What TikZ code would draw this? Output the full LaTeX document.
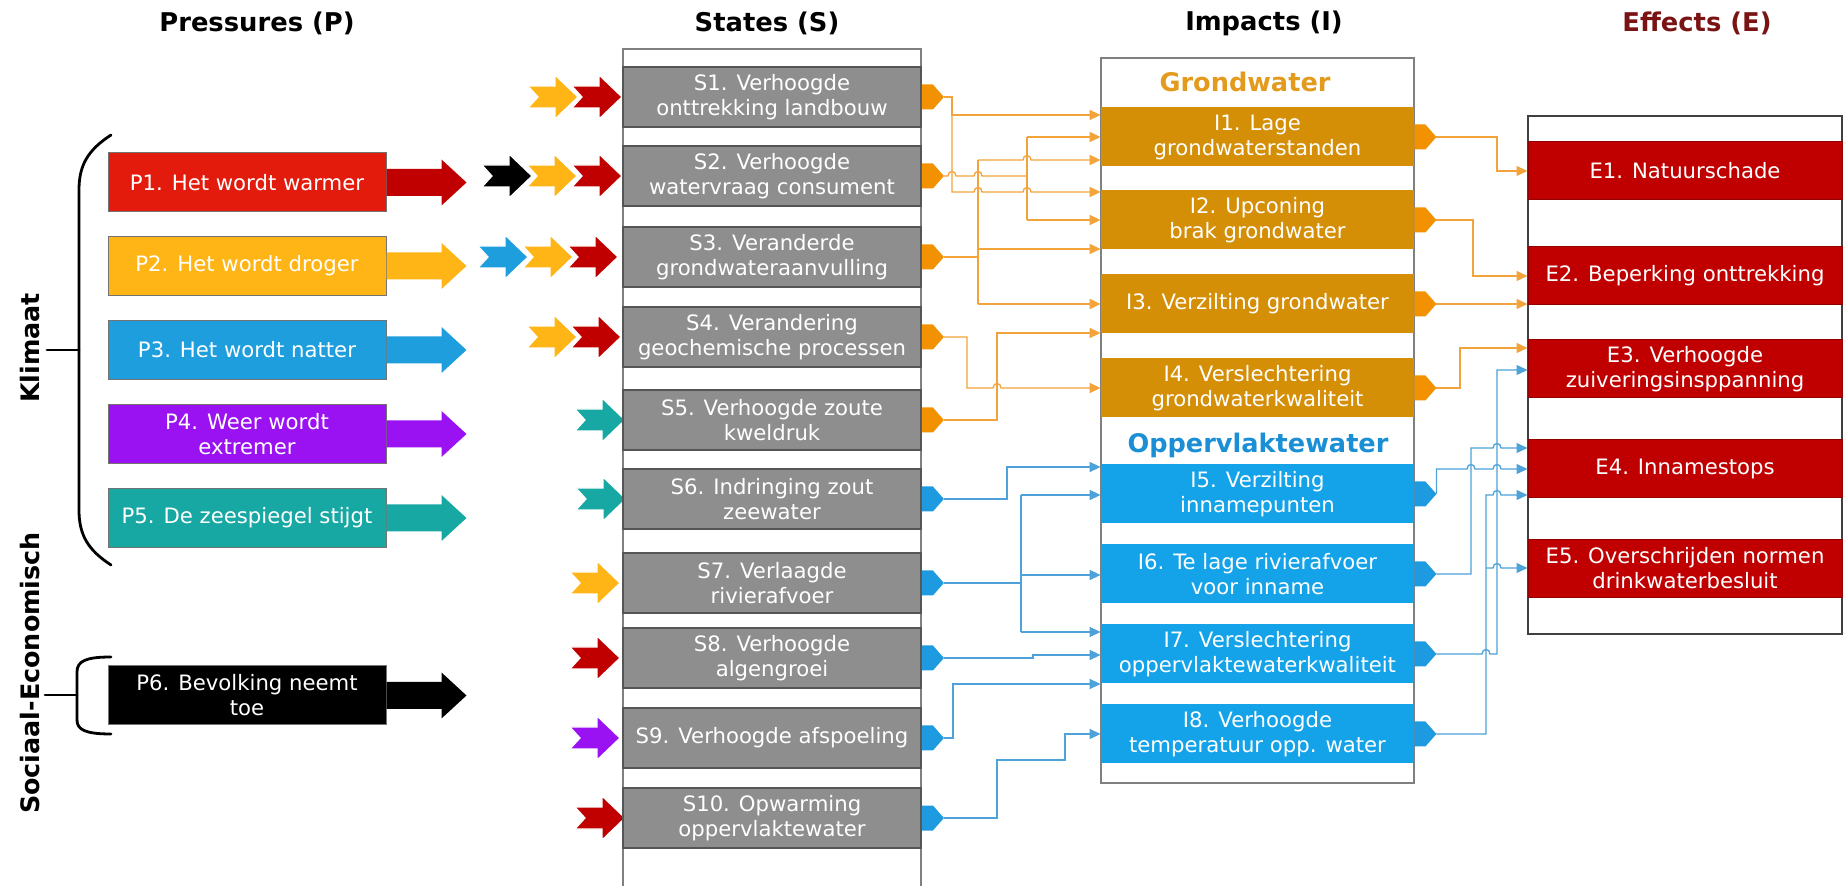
\documentclass[tikz,border=0pt]{standalone}
\usepackage{fontspec}
\setmainfont{DejaVu Sans}
\usetikzlibrary{arrows.meta}
\definecolor{pred}{HTML}{E31B0C}
\definecolor{dred}{HTML}{C00000}
\definecolor{pyel}{HTML}{FFB515}
\definecolor{pblu}{HTML}{1F9EDE}
\definecolor{ppur}{HTML}{9A11F2}
\definecolor{ptea}{HTML}{17A8A3}
\definecolor{sgray}{HTML}{8E8E8E}
\definecolor{sdark}{HTML}{555555}
\definecolor{iora}{HTML}{D48F06}
\definecolor{iblu}{HTML}{14A3E9}
\definecolor{lora}{HTML}{F2A33A}
\definecolor{bora}{HTML}{F39200}
\definecolor{lblu}{HTML}{4CA2D9}
\definecolor{bblu}{HTML}{1E9BE0}
\definecolor{ered}{HTML}{C00000}
\definecolor{gtxt}{HTML}{E39B1E}
\definecolor{otxt}{HTML}{1B8FD6}
\definecolor{etit}{HTML}{7A1414}
\tikzset{
  txt/.style={font=\fontsize{10.6}{12.5}\selectfont, text=white, align=center, inner sep=0pt},
  pbox/.style={txt, fill=#1, draw=black!55, line width=0.5pt, minimum width=139pt, minimum height=29.5pt},
  sbox/.style={txt, fill=sgray, draw=sdark, line width=0.9pt, minimum width=149pt, minimum height=30pt},
  ibox/.style={txt, fill=#1, minimum width=156.5pt, minimum height=29.5pt},
  ebox/.style={txt, fill=ered, draw=ered!75!black, line width=0.5pt, minimum width=157pt, minimum height=29pt},
  frame/.style={draw=#1, line width=0.8pt, fill=white},
  title/.style={font=\fontsize{12.9}{15}\selectfont\bfseries, inner sep=0pt},
  side/.style={font=\fontsize{12.7}{15}\selectfont\bfseries, rotate=90, inner sep=0pt},
  sub/.style={font=\fontsize{12.8}{15}\selectfont\bfseries, inner sep=0pt, text=#1},
  conn/.style={line width=0.65pt, draw=#1},
  oc/.style={conn=lora, -{Triangle[length=5.5pt,width=5pt]}},
  ocl/.style={conn=lora},
  bc/.style={conn=lblu, -{Triangle[length=5.5pt,width=5pt]}},
  bcl/.style={conn=lblu},
  hop/.style 2 args={insert path={-- (#1-4,#2) .. controls (#1-4,#2-6) and (#1+4,#2-6) .. (#1+4,#2)}},
  brace/.style={line width=1.4pt, line cap=round},
  chev/.pic={\filldraw[fill=#1, draw=white, line width=0.6pt] (0,-11) -- (27,-11) -- (27,-22) -- (50,0) -- (27,22) -- (27,11) -- (0,11) -- (10,0) -- cycle;},
  parr/.pic={\fill[#1] (0,-13.5) -- (55,-13.5) -- (55,-23) -- (80,0) -- (55,23) -- (55,13.5) -- (0,13.5) -- cycle;},
  blob/.pic={\fill[#1] (0,-12.5) -- (11,-12.5) -- (22,0) -- (11,12.5) -- (0,12.5) -- cycle;},
}
\begin{document}
\begin{tikzpicture}[x=0.5pt,y=-0.5pt]
\useasboundingbox[fill=white] (0,0) rectangle (1847,886);

% titles
\node[title] (tp) at (257,23) {Pressures (P)};
\node[title] (ts) at (767,23) {States (S)};
\node[title] (ti) at (1264,23) {Impacts (I)};
\node[title, text=etit] (te) at (1697,23) {Effects (E)};
\node[side] (kl) at (30,348) {Klimaat};
\node[side] (se) at (30,673) {Sociaal-Economisch};

% braces
\draw[brace] (111,135) .. controls (88,150) and (79,165) .. (79,190) -- (79,510) .. controls (79,535) and (88,550) .. (111,565);
\draw[brace] (47,350) -- (79,350);
\draw[brace] (111,657) .. controls (86,657) and (77,661) .. (77,672) -- (77,720) .. controls (77,730) and (86,734) .. (111,734);
\draw[brace] (45,695) -- (77,695);

% frames
\draw[frame=black!50] (623,49) rectangle (921,900);
\draw[frame=black!50] (1101,58) rectangle (1414,783);
\draw[frame=black!75] (1528,116) rectangle (1842,634);

% pressures
\node[pbox=pred] (p1) at (247,182.5) {P1. Het wordt warmer};
\node[pbox=pyel] (p2) at (247,266) {P2. Het wordt droger};
\node[pbox=pblu] (p3) at (247,350) {P3. Het wordt natter};
\node[pbox=ppur] (p4) at (247,434) {P4. Weer wordt\\extremer};
\node[pbox=ptea] (p5) at (247,518) {P5. De zeespiegel stijgt};
\node[pbox=black] (p6) at (247,695.5) {P6. Bevolking neemt\\toe};
\pic at (p1.east) {parr=dred};
\pic at (p2.east) {parr=pyel};
\pic at (p3.east) {parr=pblu};
\pic at (p4.east) {parr=ppur};
\pic at (p5.east) {parr=ptea};
\pic at (p6.east) {parr=black};

% chevrons feeding the states
\pic at (528,97) {chev=pyel};
\pic at (572,97) {chev=dred};
\pic at (482,176) {chev=black};
\pic at (527,176) {chev=pyel};
\pic at (572,176) {chev=dred};
\pic at (478,257) {chev=pblu};
\pic at (523,257) {chev=pyel};
\pic at (568,257) {chev=dred};
\pic at (527,337) {chev=pyel};
\pic at (571,337) {chev=dred};
\pic at (575,420) {chev=ptea};
\pic at (576,499) {chev=ptea};
\pic at (570,583) {chev=pyel};
\pic at (570,658) {chev=dred};
\pic at (570,738) {chev=ppur};
\pic at (575,818) {chev=dred};

% states
\node[sbox] (s1) at (772,97) {S1. Verhoogde\\onttrekking landbouw};
\node[sbox] (s2) at (772,176) {S2. Verhoogde\\watervraag consument};
\node[sbox] (s3) at (772,257) {S3. Veranderde\\grondwateraanvulling};
\node[sbox] (s4) at (772,337) {S4. Verandering\\geochemische processen};
\node[sbox] (s5) at (772,420) {S5. Verhoogde zoute\\kweldruk};
\node[sbox] (s6) at (772,499) {S6. Indringing zout\\zeewater};
\node[sbox] (s7) at (772,583) {S7. Verlaagde\\rivierafvoer};
\node[sbox] (s8) at (772,658) {S8. Verhoogde\\algengroei};
\node[sbox] (s9) at (772,738) {S9. Verhoogde afspoeling};
\node[sbox] (s10) at (772,818) {S10. Opwarming\\oppervlaktewater};

% impacts
\node[sub=gtxt] (gw) at (1245,82) {Grondwater};
\node[sub=otxt] (ow) at (1258,445) {Oppervlaktewater};
\node[ibox=iora] (i1) at (1257.5,137) {I1. Lage\\grondwaterstanden};
\node[ibox=iora] (i2) at (1257.5,220) {I2. Upconing\\brak grondwater};
\node[ibox=iora] (i3) at (1257.5,304) {I3. Verzilting grondwater};
\node[ibox=iora] (i4) at (1257.5,388) {I4. Verslechtering\\grondwaterkwaliteit};
\node[ibox=iblu] (i5) at (1257.5,494) {I5. Verzilting\\innamepunten};
\node[ibox=iblu] (i6) at (1257.5,574) {I6. Te lage rivierafvoer\\voor inname};
\node[ibox=iblu] (i7) at (1257.5,654) {I7. Verslechtering\\oppervlaktewaterkwaliteit};
\node[ibox=iblu] (i8) at (1257.5,734) {I8. Verhoogde\\temperatuur opp. water};

% effects
\node[ebox] (e1) at (1685,170.5) {E1. Natuurschade};
\node[ebox] (e2) at (1685,276) {E2. Beperking onttrekking};
\node[ebox] (e3) at (1685,369) {E3. Verhoogde\\zuiveringsinsppanning};
\node[ebox] (e4) at (1685,469) {E4. Innamestops};
\node[ebox] (e5) at (1685,568.5) {E5. Overschrijden normen\\drinkwaterbesluit};

% blobs and their tips
\foreach \s in {s1,s2,s3,s4,s5}{\pic at (\s.east) {blob=bora};}
\foreach \s in {s6,s7,s8,s9,s10}{\pic at (\s.east) {blob=bblu};}
\foreach \s in {i1,i2,i3,i4}{\pic at (\s.east) {blob=bora};}
\foreach \s in {i5,i6,i7,i8}{\pic at (\s.east) {blob=bblu};}
\foreach \s in {s1,s2,s3,s4,s5,s6,s7,s8,s9,s10,i1,i2,i3,i4,i5,i6,i7,i8}{\coordinate (\s t) at ([xshift=11pt]\s.east);}

% orange states -> impacts
\draw[oc] (s1t) -| (952,115) -- (i1.west |- 0,115);
\draw[oc] (952,115) -- (952,192) [hop={978}{192}] [hop={1027}{192}] -- (i2.west |- 0,192);
\draw[ocl] (s2t) [hop={952}{176}] [hop={978}{176}] -- (1027,176);
\draw[ocl] (1027,137) -- (1027,220);
\draw[oc] (1027,137) -- (i1.west |- 0,137);
\draw[oc] (1027,220) -- (i2.west |- 0,220);
\draw[ocl] (s3t) -- (978,257);
\draw[ocl] (978,160) -- (978,304);
\draw[oc] (978,160) [hop={1027}{160}] -- (i1.west |- 0,160);
\draw[oc] (978,249) -- (i2.west |- 0,249);
\draw[oc] (978,304) -- (i3.west |- 0,304);
\draw[oc] (s4t) -| (967,388) [hop={997}{388}] -- (i4.west |- 0,388);
\draw[oc] (s5t) -| (997,333) -- (i3.west |- 0,333);

% blue states -> impacts
\draw[bc] (s6t) -| (1007,467) -- (i5.west |- 0,467);
\draw[bcl] (s7t) -- (1021,583);
\draw[bcl] (1021,495) -- (1021,632);
\draw[bc] (1021,495) -- (i5.west |- 0,495);
\draw[bc] (1021,575) -- (i6.west |- 0,575);
\draw[bc] (1021,632) -- (i7.west |- 0,632);
\draw[bc] (s8t) -- (1033,658) -- (1033,655) -- (i7.west |- 0,655);
\draw[bc] (s9t) -| (953,684) -- (i7.west |- 0,684);
\draw[bc] (s10t) -| (997,760) -| (1065,734) -- (i8.west |- 0,734);

% orange impacts -> effects
\draw[oc] (i1t) -| (1497,171) -- (e1.west |- 0,171);
\draw[oc] (i2t) -| (1473,276) -- (e2.west |- 0,276);
\draw[oc] (i3t) -- (e2.west |- i3t);
\draw[oc] (i4t) -| (1460,348) -- (e3.west |- 0,348);

% blue impacts -> effects
\draw[bc] (i5t) -- (i5t |- 0,469) [hop={1471}{469}] [hop={1497}{469}] -- (e4.west |- 0,469);
\draw[bc] (i6t) -| (1471,448) [hop={1497}{448}] -- (e4.west |- 0,448);
\draw[bc] (i7t) [hop={1486}{654}] -- (1497,654) -- (1497,370) -- (e3.west |- 0,370);
\draw[bc] (i8t) -| (1486,495) [hop={1497}{495}] -- (e4.west |- 0,495);
\draw[bc] (1486,568) [hop={1497}{568}] -- (e5.west |- 0,568);
\end{tikzpicture}
\end{document}
